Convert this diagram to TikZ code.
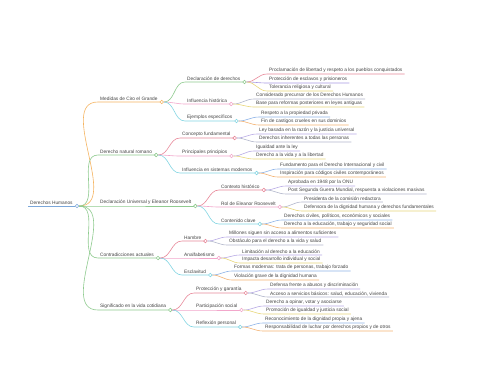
\documentclass[tikz,border=0pt]{standalone}
\usepackage{fontspec}
\setmainfont{Liberation Sans}
\definecolor{cblue}{HTML}{7BA7D9}
\definecolor{corange}{HTML}{F5B461}
\definecolor{cgreen}{HTML}{8FCB8F}
\definecolor{cred}{HTML}{E8899A}
\definecolor{cpink}{HTML}{F2A7CB}
\definecolor{ccyan}{HTML}{84D6E3}
\definecolor{clav}{HTML}{B9ACE6}
\definecolor{cpurple}{HTML}{A99BE3}
\definecolor{cyellow}{HTML}{E8D77A}
\definecolor{clblue}{HTML}{8FB5E8}
\definecolor{clorange}{HTML}{F4B373}
\definecolor{cgrey}{HTML}{B3B8CC}
\definecolor{ctext}{HTML}{444444}
\tikzset{
  lbl/.style={anchor=south west,inner xsep=2pt,inner ysep=1.1pt,font=\fontsize{4.8pt}{5.2pt}\selectfont,text=ctext},
  ln/.style={line width=0.6pt},
  dot/.style={circle,fill=white,line width=0.6pt,minimum size=3.6pt,inner sep=0pt}
}
\newcommand\mmleaf[6]{%
  \node[lbl] (#1) at (#4,#5) {#6};
  \draw[ln,#3] (#2.east) to[out=0,in=180] (#1.south west) -- (#1.south east);
}
\newcommand\mmbranch[6]{%
  \node[lbl] (#1) at (#4,#5) {#6};
  \draw[ln,#3] (#2.east) to[out=0,in=180] (#1.south west) -- ([xshift=0.3pt]#1.south east);
  \node[dot,draw=#3] (#1d) at ([xshift=2pt]#1.south east) {};
}
\begin{document}
\begin{tikzpicture}[x=1pt,y=-1pt]
\useasboundingbox[fill=white] (0,0) rectangle (480,384);
% root
\node[lbl] (r) at (28,206) {Derechos Humanos};
\node[dot,draw=cblue] (rd) at (77,206) {};
\draw[ln,cblue] (r.south west) -- (rd.west);
% level 1
\mmbranch{a}{rd}{corange}{98}{102}{Medidas de Ciro el Grande}
\mmbranch{b}{rd}{cgreen}{98}{155}{Derecho natural romano}
\mmbranch{c}{rd}{cgreen}{98}{206}{Declaración Universal y Eleanor Roosevelt}
\mmbranch{e}{rd}{cgreen}{98}{258}{Contradicciones actuales}
\mmbranch{f}{rd}{cgreen}{98}{310}{Significado en la vida cotidiana}
% level 2
\mmbranch{aa}{ad}{cgreen}{185}{82}{Declaración de derechos}
\mmbranch{ab}{ad}{cpink}{185}{104}{Influencia histórica}
\mmbranch{ac}{ad}{ccyan}{185}{121}{Ejemplos específicos}
\mmbranch{ba}{bd}{cred}{180}{138}{Concepto fundamental}
\mmbranch{bb}{bd}{cpink}{180}{156}{Principales principios}
\mmbranch{bc}{bd}{ccyan}{180}{173}{Influencia en sistemas modernos}
\mmbranch{ca}{cd}{cred}{219}{190}{Contexto histórico}
\mmbranch{cb}{cd}{cpink}{219}{207}{Rol de Eleanor Roosevelt}
\mmbranch{cc}{cd}{ccyan}{219}{224}{Contenido clave}
\mmbranch{ea}{ed}{cred}{182}{241}{Hambre}
\mmbranch{eb}{ed}{cpink}{182}{258}{Analfabetismo}
\mmbranch{ec}{ed}{ccyan}{182}{275}{Esclavitud}
\mmbranch{fa}{fd}{cred}{194}{293}{Protección y garantía}
\mmbranch{fb}{fd}{cpink}{194}{310}{Participación social}
\mmbranch{fc}{fd}{ccyan}{194}{327}{Reflexión personal}
% level 3
\mmleaf{aaa}{aad}{cred}{267}{74}{Proclamación de libertad y respeto a los pueblos conquistados}
\mmleaf{aab}{aad}{cpurple}{267}{83}{Protección de esclavos y prisioneros}
\mmleaf{aac}{aad}{cyellow}{267}{91}{Tolerancia religiosa y cultural}
\mmleaf{aba}{abd}{cgrey}{254}{99}{Considerado precursor de los Derechos Humanos}
\mmleaf{abb}{abd}{cyellow}{254}{107}{Base para reformas posteriores en leyes antiguas}
\mmleaf{aca}{acd}{clblue}{259}{117}{Respeto a la propiedad privada}
\mmleaf{acb}{acd}{clorange}{259}{125}{Fin de castigos crueles en sus dominios}
\mmleaf{baa}{bad}{clav}{257}{134}{Ley basada en la razón y la justicia universal}
\mmleaf{bab}{bad}{cgrey}{257}{142}{Derechos inherentes a todas las personas}
\mmleaf{bba}{bbd}{clav}{254}{151}{Igualdad ante la ley}
\mmleaf{bbb}{bbd}{cyellow}{254}{159}{Derecho a la vida y a la libertad}
\mmleaf{bca}{bcd}{clblue}{278}{169}{Fundamento para el Derecho Internacional y civil}
\mmleaf{bcb}{bcd}{clorange}{278}{177}{Inspiración para códigos civiles contemporáneos}
\mmleaf{caa}{cad}{clav}{286}{186}{Aprobada en 1948 por la ONU}
\mmleaf{cab}{cad}{cgrey}{286}{194}{Post Segunda Guerra Mundial, respuesta a violaciones masivas}
\mmleaf{cba}{cbd}{cgrey}{302}{202}{Presidenta de la comisión redactora}
\mmleaf{cbb}{cbd}{cyellow}{302}{211}{Defensora de la dignidad humana y derechos fundamentales}
\mmleaf{cca}{ccd}{clblue}{282}{220}{Derechos civiles, políticos, económicos y sociales}
\mmleaf{ccb}{ccd}{clorange}{282}{228}{Derecho a la educación, trabajo y seguridad social}
\mmleaf{eaa}{ead}{clav}{227}{237}{Millones siguen sin acceso a alimentos suficientes}
\mmleaf{eab}{ead}{cgrey}{227}{245}{Obstáculo para el derecho a la vida y salud}
\mmleaf{eba}{ebd}{clav}{240}{255}{Limitación al derecho a la educación}
\mmleaf{ebb}{ebd}{cyellow}{240}{263}{Impacta desarrollo individual y social}
\mmleaf{eca}{ecd}{clblue}{232}{271}{Formas modernas: trata de personas, trabajo forzado}
\mmleaf{ecb}{ecd}{clorange}{232}{280}{Violación grave de la dignidad humana}
\mmleaf{faa}{fad}{clav}{268}{289}{Defensa frente a abusos y discriminación}
\mmleaf{fab}{fad}{cgrey}{268}{297}{Acceso a servicios básicos: salud, educación, vivienda}
\mmleaf{fba}{fbd}{clav}{264}{306}{Derecho a opinar, votar y asociarse}
\mmleaf{fbb}{fbd}{cyellow}{264}{314}{Promoción de igualdad y justicia social}
\mmleaf{fca}{fcd}{clblue}{263}{323}{Reconocimiento de la dignidad propia y ajena}
\mmleaf{fcb}{fcd}{clorange}{263}{331}{Responsabilidad de luchar por derechos propios y de otros}
\end{tikzpicture}
\end{document}
